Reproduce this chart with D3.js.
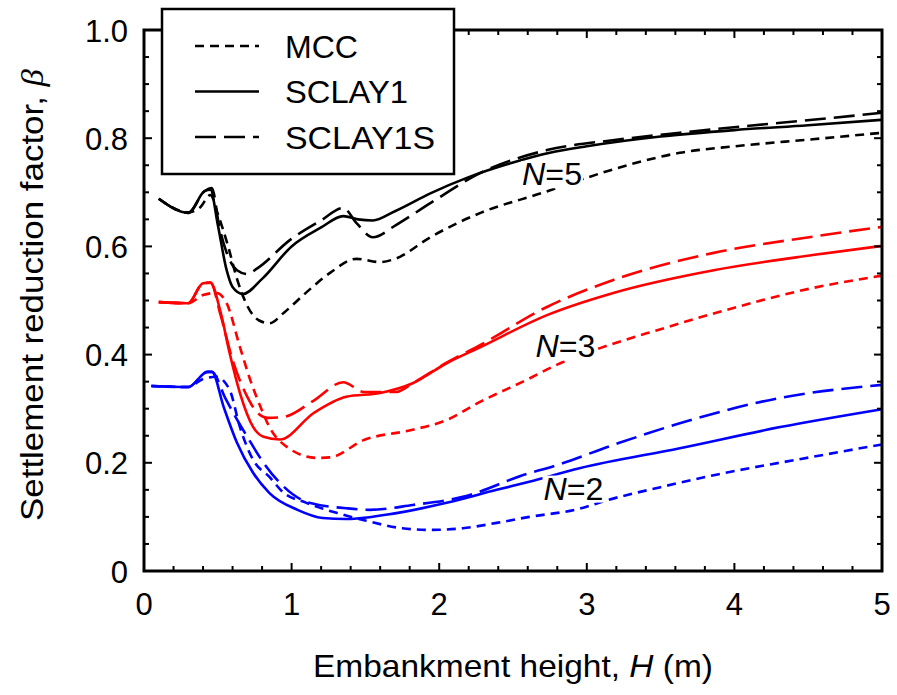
<!DOCTYPE html>
<html><head><meta charset="utf-8">
<script src="https://cdn.jsdelivr.net/npm/d3@7/dist/d3.min.js"></script>
<style>body{margin:0;background:#fff}svg{display:block}text{font-family:"Liberation Sans",Arial,sans-serif}</style>
</head><body>
<svg id="c" width="897" height="695"></svg>
<script>
// ---- data: [H (m), beta] ----
const mccN5 = [[0.1,0.688],[0.3,0.663],[0.38,0.672],[0.45,0.695],[0.5,0.66],[0.57,0.6],[0.63,0.54],[0.7,0.49],[0.78,0.463],[0.85,0.458],[0.95,0.478],[1.1,0.515],[1.26,0.551],[1.44,0.577],[1.6,0.571],[1.71,0.578],[1.94,0.617],[2.28,0.662],[2.7,0.699],[3.0,0.727],[3.3,0.752],[3.63,0.773],[4.0,0.785],[4.53,0.798],[5.0,0.81]];
const sclay1N5 = [[0.1,0.688],[0.3,0.662],[0.41,0.702],[0.45,0.705],[0.5,0.64],[0.56,0.556],[0.6,0.525],[0.67,0.512],[0.8,0.54],[1.0,0.6],[1.2,0.635],[1.35,0.656],[1.45,0.65],[1.55,0.648],[1.7,0.665],[1.94,0.698],[2.2,0.728],[2.5,0.755],[2.75,0.773],[3.0,0.785],[3.5,0.803],[4.0,0.815],[4.5,0.824],[5.0,0.834]];
const sclay1sN5 = [[0.1,0.688],[0.3,0.662],[0.41,0.702],[0.46,0.708],[0.51,0.636],[0.58,0.575],[0.63,0.556],[0.7,0.549],[0.77,0.56],[0.99,0.612],[1.2,0.648],[1.35,0.671],[1.44,0.643],[1.55,0.617],[1.71,0.64],[1.94,0.68],[2.28,0.736],[2.73,0.778],[3.2,0.797],[3.63,0.81],[4.1,0.823],[4.53,0.834],[5.0,0.847]];

const mccN3 = [[0.1,0.497],[0.3,0.495],[0.4,0.51],[0.49,0.514],[0.56,0.495],[0.65,0.414],[0.72,0.353],[0.79,0.303],[0.85,0.266],[0.97,0.229],[1.17,0.209],[1.26,0.21],[1.49,0.242],[1.82,0.261],[2.05,0.279],[2.28,0.313],[2.59,0.353],[2.82,0.384],[3.09,0.412],[3.5,0.447],[3.86,0.476],[4.53,0.523],[5.0,0.546]];
const sclay1N3 = [[0.1,0.497],[0.3,0.495],[0.4,0.532],[0.45,0.533],[0.52,0.477],[0.58,0.403],[0.65,0.329],[0.74,0.266],[0.81,0.248],[0.92,0.243],[1.15,0.292],[1.37,0.322],[1.6,0.329],[1.82,0.347],[2.05,0.384],[2.28,0.414],[2.73,0.473],[3.18,0.514],[3.86,0.556],[4.53,0.584],[5.0,0.601]];
const sclay1sN3 = [[0.1,0.497],[0.3,0.495],[0.4,0.532],[0.45,0.533],[0.52,0.472],[0.6,0.39],[0.7,0.322],[0.77,0.292],[0.84,0.283],[0.95,0.285],[1.15,0.315],[1.35,0.349],[1.49,0.331],[1.71,0.331],[1.82,0.347],[2.05,0.385],[2.28,0.418],[2.73,0.488],[3.18,0.538],[3.86,0.588],[4.53,0.618],[5.0,0.636]];

const mccN2 = [[0.05,0.342],[0.3,0.34],[0.4,0.355],[0.49,0.359],[0.58,0.335],[0.65,0.266],[0.74,0.205],[0.85,0.174],[0.94,0.146],[1.1,0.126],[1.31,0.107],[1.49,0.094],[1.75,0.079],[1.94,0.076],[2.16,0.079],[2.39,0.089],[2.61,0.1],[2.95,0.115],[3.14,0.131],[3.5,0.155],[3.86,0.177],[4.53,0.211],[5.0,0.234]];
const sclay1N2 = [[0.05,0.342],[0.3,0.34],[0.43,0.368],[0.46,0.368],[0.54,0.303],[0.63,0.237],[0.74,0.181],[0.85,0.144],[1.04,0.113],[1.21,0.098],[1.37,0.096],[1.71,0.107],[2.05,0.126],[2.39,0.15],[2.61,0.165],[2.95,0.19],[3.63,0.227],[4.31,0.266],[5.0,0.299]];
const sclay1sN2 = [[0.05,0.342],[0.3,0.34],[0.43,0.368],[0.46,0.368],[0.55,0.32],[0.62,0.285],[0.7,0.248],[0.81,0.2],[0.92,0.163],[1.12,0.126],[1.37,0.116],[1.53,0.113],[1.82,0.122],[2.16,0.137],[2.61,0.181],[2.73,0.19],[3.2,0.235],[3.63,0.273],[4.31,0.32],[5.0,0.344]];

const xTicks = [0,1,2,3,4,5];
const yTicks = [0,0.2,0.4,0.6,0.8,1.0];
const yTickLabels = ["0","0.2","0.4","0.6","0.8","1.0"];
const legendNames = ["MCC","SCLAY1","SCLAY1S"];
const groupNames = ["N=5","N=3","N=2"];
const groupLabelPos = [[2.765,0.713],[2.855,0.395],[2.91,0.132]];

// ---- drawing ----
const svg = d3.select("#c");
const L=144,R=882,T=30,B=571;
const x = d3.scaleLinear().domain([0,5]).range([L,R]);
const y = d3.scaleLinear().domain([0,1]).range([B,T]);

const styles = {MCC:"9,6", SCLAY1:null, SCLAY1S:"21,8"};
const series = [
  {d:mccN5,c:"#000",s:"MCC"},{d:sclay1N5,c:"#000",s:"SCLAY1"},{d:sclay1sN5,c:"#000",s:"SCLAY1S"},
  {d:mccN3,c:"#f00",s:"MCC"},{d:sclay1N3,c:"#f00",s:"SCLAY1"},{d:sclay1sN3,c:"#f00",s:"SCLAY1S"},
  {d:mccN2,c:"#00f",s:"MCC"},{d:sclay1N2,c:"#00f",s:"SCLAY1"},{d:sclay1sN2,c:"#00f",s:"SCLAY1S"}
];
const line = d3.line().x(d=>x(d[0])).y(d=>y(d[1])).curve(d3.curveMonotoneX);
svg.append("g").selectAll("path").data(series).join("path")
  .attr("d",d=>line(d.d)).attr("fill","none").attr("stroke",d=>d.c)
  .attr("stroke-width",2.6).attr("stroke-dasharray",d=>styles[d.s]);

// group labels with white background
groupNames.forEach((n,i)=>{
  const g = svg.append("g");
  const t = g.append("text").attr("x",x(groupLabelPos[i][0])).attr("y",y(groupLabelPos[i][1]))
    .attr("text-anchor","middle").attr("font-size",31)
    .attr("textLength",60).attr("lengthAdjust","spacingAndGlyphs");
  t.append("tspan").attr("font-style","italic").text("N");
  t.append("tspan").text(n.slice(1));
  const bb = t.node().getBBox();
  g.insert("rect","text").attr("x",bb.x-1).attr("y",bb.y+4).attr("width",bb.width+2).attr("height",bb.height-8).attr("fill","#fff");
});

// axes (ticks inward, all four sides)
const ax = svg.append("g");
const xMinor = d3.range(0,5.001,0.2), yMinor = d3.range(0,1.001,0.05);
xMinor.forEach(v=>{const big = Math.abs(v-Math.round(v))<1e-6; const len=big?8:5;
  ax.append("line").attr("x1",x(v)).attr("x2",x(v)).attr("y1",B).attr("y2",B-len).attr("stroke","#000").attr("stroke-width",2);
  ax.append("line").attr("x1",x(v)).attr("x2",x(v)).attr("y1",T).attr("y2",T+len).attr("stroke","#000").attr("stroke-width",2);});
yMinor.forEach(v=>{const big = Math.abs(v*5-Math.round(v*5))<1e-6; const len=big?8:5;
  ax.append("line").attr("y1",y(v)).attr("y2",y(v)).attr("x1",L).attr("x2",L+len).attr("stroke","#000").attr("stroke-width",2);
  ax.append("line").attr("y1",y(v)).attr("y2",y(v)).attr("x1",R).attr("x2",R-len).attr("stroke","#000").attr("stroke-width",2);});
ax.append("rect").attr("x",L).attr("y",T).attr("width",R-L).attr("height",B-T).attr("fill","none").attr("stroke","#000").attr("stroke-width",3);

ax.selectAll("text.xt").data(xTicks).join("text").attr("class","xt")
  .attr("x",d=>x(d)).attr("y",B+33).attr("dominant-baseline","central").attr("text-anchor","middle").attr("font-size",31).text(d=>d);
ax.selectAll("text.yt").data(yTicks).join("text").attr("class","yt")
  .attr("x",L-16).attr("y",d=>y(d)+1).attr("dominant-baseline","central").attr("text-anchor","end").attr("font-size",31).text((d,i)=>yTickLabels[i]);

// axis titles
const xt = svg.append("text").attr("x",513).attr("y",677).attr("text-anchor","middle").attr("font-size",32)
  .attr("textLength",400).attr("lengthAdjust","spacingAndGlyphs");
xt.append("tspan").text("Embankment height, ");
xt.append("tspan").attr("font-style","italic").text("H");
xt.append("tspan").text(" (m)");
const yt = svg.append("text").attr("transform","translate(43,295) rotate(-90)").attr("text-anchor","middle").attr("font-size",32)
  .attr("textLength",452).attr("lengthAdjust","spacingAndGlyphs");
yt.append("tspan").text("Settlement reduction factor, ");
yt.append("tspan").attr("font-style","italic").attr("font-family","Liberation Serif").text("β");

// legend
const lg = svg.append("g");
const legendLen = [73,123,150];
lg.append("rect").attr("x",162).attr("y",9).attr("width",292).attr("height",165).attr("fill","#fff").attr("stroke","#000").attr("stroke-width",2.5);
legendNames.forEach((n,i)=>{
  const yy = 46 + i*45.5;
  lg.append("line").attr("x1",195).attr("x2",259).attr("y1",yy).attr("y2",yy).attr("stroke","#000").attr("stroke-width",2.6).attr("stroke-dasharray",styles[n]);
  lg.append("text").attr("x",285).attr("y",yy+1).attr("dominant-baseline","central").attr("font-size",31)
    .attr("textLength",legendLen[i]).attr("lengthAdjust","spacingAndGlyphs").text(n);
});
</script>
</body></html>
